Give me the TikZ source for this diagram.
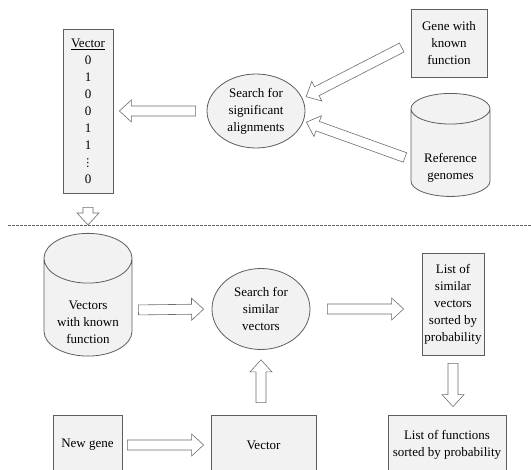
\documentclass[tikz,border=0pt]{standalone}
\usepackage{fontspec}
\setmainfont{Liberation Serif}
\newfontfamily\dotsfont{DejaVu Sans}
\usetikzlibrary{shapes.geometric,calc}
\definecolor{boxfill}{HTML}{F2F2F2}
\definecolor{boxline}{HTML}{5E5E5E}
\definecolor{arrowline}{HTML}{6E6E6E}

% small dotted column between the vector entries
\newcommand{\colvdots}{{\dotsfont\fontsize{11}{17}\selectfont ⋮}}
% cylinder text, moved down into the body
\newcommand{\cyltext}[1]{\raisebox{-13pt}[\height][\depth]{%
	\begin{tabular}{@{}c@{}}#1\end{tabular}}}

% hollow block arrow: from, to, gap at start, gap at end
\newcommand{\hollowarrow}[4]{%
	\coordinate (ha-a) at ($(#1)!#3!(#2)$);
	\coordinate (ha-b) at ($(#2)!#4!(#1)$);
	\coordinate (ha-n) at ($(ha-b)!12pt!(ha-a)$);
	\draw[harrow] ($(ha-a)!5pt!90:(ha-b)$) -- ($(ha-n)!5pt!90:(ha-b)$)
	-- ($(ha-n)!11pt!90:(ha-b)$) -- (ha-b) -- ($(ha-n)!11pt!-90:(ha-b)$)
	-- ($(ha-n)!5pt!-90:(ha-b)$) -- ($(ha-a)!5pt!-90:(ha-b)$) -- cycle;}

\begin{document}
\begin{tikzpicture}[x=1pt, y=-1pt,
	font={\fontsize{13}{17}\selectfont},
	bstyle/.style={rectangle, draw=boxline, fill=boxfill, thick,
	align=center, inner sep=1pt},
	estyle/.style={ellipse, draw=boxline, fill=boxfill, thick,
	align=center, inner sep=0pt},
	cstyle/.style={cylinder, shape border rotate=90, draw=boxline,
	fill=boxfill, thick, align=center, inner sep=1pt},
	harrow/.style={draw=arrowline, fill=white, line width=0.6pt,
	line join=miter},
	sepline/.style={draw=boxline, dash pattern=on 2.5pt off 1.5pt,
	line width=0.6pt}
	]
	\useasboundingbox (0,0) rectangle (531,470);
	\fill[white] (0,0) rectangle (531,470);
	% upper part
	\node[bstyle, minimum width=50pt, minimum height=164pt] (vec1) at (88,111)
	{\underline{Vector}\\0\\1\\0\\0\\1\\1\\\colvdots\\0};
	\node[estyle, minimum width=98pt, minimum height=74pt] (srch1) at (256,111)
	{Search for\\significant\\alignments};
	\node[bstyle, minimum width=76pt, minimum height=68pt] (gene) at (449,43)
	{Gene with\\known\\function};
	\node[cstyle, aspect=0.56, minimum width=79pt, minimum height=103pt]
	(refg) at (450.5,154.5) {\cyltext{Reference\\genomes}};
	\draw[sepline] (8,225) -- (531,225);
	% lower part
	\node[cstyle, aspect=0.78, minimum width=88pt, minimum height=109pt]
	(vecs) at (88,310) {\cyltext{Vectors\\with known\\function}};
	\node[estyle, minimum width=98pt, minimum height=81pt] (srch2) at (261,309)
	{Search for\\similar\\vectors};
	\node[bstyle, minimum width=62pt, minimum height=102pt] (simv) at (453,304)
	{List of\\similar\\vectors\\sorted by\\probability};
	\node[bstyle, minimum width=118pt, minimum height=60pt] (funcs) at (447,445)
	{List of functions\\sorted by probability};
	\node[bstyle, minimum width=69pt, minimum height=60pt] (newg) at (87.5,445)
	{New gene};
	\node[bstyle, minimum width=105pt, minimum height=60pt] (vec2) at (263.5,445)
	{Vector};
	% arrows
	\coordinate (refg-out) at ($(refg.west)+(0,5)$);
	\coordinate (simv-in) at (simv.west |- srch2.east);
	\coordinate (funcs-in) at (funcs.north -| simv.south);
	\coordinate (vec2-out) at (vec2.north -| srch2.south);
	\hollowarrow{srch1.west}{vec1.east}{11pt}{6pt}
	\hollowarrow{gene.west}{srch1.15}{10pt}{4pt}
	\hollowarrow{refg-out}{srch1.-12}{6pt}{3pt}
	\hollowarrow{vec1.south}{vecs.north}{14pt}{8pt}
	\hollowarrow{vecs.east}{srch2.west}{6pt}{8pt}
	\hollowarrow{srch2.east}{simv-in}{17pt}{18pt}
	\hollowarrow{simv.south}{funcs-in}{8pt}{8pt}
	\hollowarrow{newg.east}{vec2.west}{5pt}{7pt}
	\hollowarrow{vec2-out}{srch2.south}{12pt}{10pt}
\end{tikzpicture}
\end{document}
